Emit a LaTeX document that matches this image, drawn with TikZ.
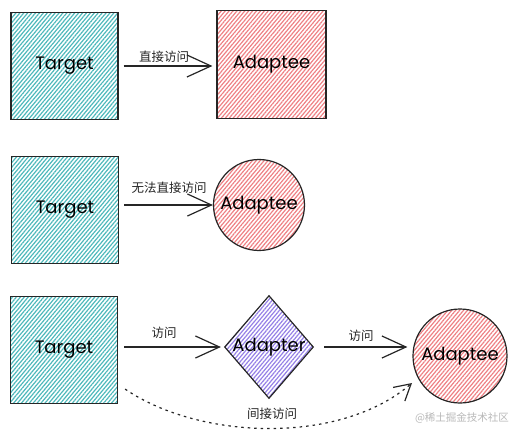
\documentclass[tikz,border=0pt]{standalone}
\usepackage{fontspec}
\setmainfont{Poppins}
\newfontfamily\cjk{Noto Sans CJK SC}
\usetikzlibrary{shapes.geometric,patterns.meta,arrows.meta}
\definecolor{tealh}{HTML}{4DB8BB}
\definecolor{pinkh}{HTML}{EE8084}
\definecolor{purph}{HTML}{9580E6}
\definecolor{wm}{HTML}{B8B8B8}
\tikzset{
  hatch/.style={pattern={Lines[angle=50,distance=3pt,line width=1.2pt]}, pattern color=#1},
  shp/.style={draw=black!85, line width=1.2pt, inner sep=0pt},
  sq/.style={shp, rectangle, minimum width=107pt, minimum height=107pt, hatch=tealh},
  sqp/.style={shp, rectangle, minimum width=109pt, minimum height=108pt, hatch=pinkh},
  circ/.style={shp, circle, minimum size=#1, hatch=pinkh},
  dia/.style={shp, diamond, minimum width=89pt, minimum height=103pt, hatch=purph},
  lbl/.style={font=\fontsize{18}{18}\selectfont, text=black},
  cl/.style={font=\cjk\fontsize{12.5}{13}\selectfont, text=black!85, inner sep=1pt},
  conn/.style={line width=1.2pt, draw=black!85, -{Straight Barb[length=24pt,width=22pt,line width=1.2pt]}},
  dconn/.style={line width=1.2pt, draw=black!85, dash pattern=on 2.5pt off 4pt, -{Straight Barb[length=16pt,width=18pt,line width=1.2pt]}}
}
\begin{document}
\begin{tikzpicture}[x=1pt,y=-1pt]
\useasboundingbox (0,0) rectangle (526,438);
% row 1
\node[sq] (t1) at (64.5,66) {};
\node[lbl] at (t1) {Target};
\node[sqp] (a1) at (271.5,64.5) {};
\node[lbl] at (a1) {Adaptee};
\draw[conn] (t1.east) ++(5,0) coordinate (s1) -- ([xshift=-4pt]a1.west |- s1);
\node[cl] at (164,57) {直接访问};
% row 2
\node[sq] (t2) at (65,210) {};
\node[lbl] at (t2) {Target};
\node[circ=91pt] (a2) at (259,205) {};
\node[lbl] at (a2) {Adaptee};
\draw[conn] ([xshift=5pt]t2.east |- a2) -- (a2.west);
\node[cl] at (169,188) {无法直接访问};
% row 3
\node[sq] (t3) at (64,350) {};
\node[lbl] at (t3) {Target};
\node[dia] (ad) at (269,347) {};
\node[lbl] at (ad) {Adapter};
\node[circ=94pt] (a3) at (460,356) {};
\node[lbl] at (a3) {Adaptee};
\draw[conn] ([xshift=6pt]t3.east |- ad.west) -- ([xshift=-3pt]ad.west);
\draw[conn] ([xshift=10pt]ad.east) -- ([xshift=-5pt]a3.west |- ad.east);
\node[cl] at (164,333) {访问};
\node[cl] at (361,336) {访问};
\coordinate (d1) at ([xshift=7pt,yshift=15pt]t3.south east);
\coordinate (d2) at (412,383);
\draw[dconn] (d1) .. controls (200,440) and (340,445) .. (d2);
\node[cl] at (272,414) {间接访问};
\node[font=\cjk\fontsize{10.5}{11}\selectfont, text=wm] at (462,418) {@稀土掘金技术社区};
\end{tikzpicture}
\end{document}
